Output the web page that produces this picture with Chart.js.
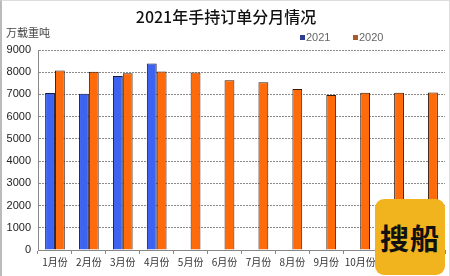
<!DOCTYPE html>
<html>
<head>
<meta charset="utf-8">
<script src="https://cdn.jsdelivr.net/npm/chart.js@4/dist/chart.umd.min.js"></script>
<style>
html,body{margin:0;padding:0;background:#fff;}
#wrap{position:relative;width:450px;height:276px;box-sizing:border-box;border-left:2px solid #bbb;border-top:1px solid #ddd;border-right:1px solid #ddd;}
#mark{position:absolute;left:373px;top:198px;width:70px;height:76px;background:#f2b41e;border-radius:9px;
  font:bold 29px "Noto Sans CJK SC",sans-serif;color:#111;display:flex;align-items:center;justify-content:center;letter-spacing:1px;}
</style>
</head>
<body>
<div id="wrap">
<canvas id="c" width="447" height="275"></canvas>
<div id="mark">搜船</div>
</div>
<script>
// 2021年手持订单分月情况 — 万载重吨
const months = ['1月份','2月份','3月份','4月份','5月份','6月份','7月份','8月份','9月份','10月份','11月份','12月份'];
const y2021 = [7070, 7030, 7830, 8390, null, null, null, null, null, null, null, null];
const y2020 = [8080, 8020, 7950, 8030, 7990, 7640, 7550, 7240, 6980, 7080, 7080, 7090];
const yTicks = [0,1000,2000,3000,4000,5000,6000,7000,8000,9000];

const cjk = '"Noto Sans CJK SC", sans-serif';

// title, unit label and legend drawn on canvas
const decor = {
    id: 'decor',
    afterDraw(chart) {
        const ctx = chart.ctx;
        ctx.save();
        ctx.fillStyle = '#111';
        ctx.font = '500 16px ' + cjk;
        ctx.textAlign = 'center';
        ctx.textBaseline = 'middle';
        ctx.fillText('2021年手持订单分月情况', 224, 16);

        ctx.fillStyle = '#444';
        ctx.font = '11px ' + cjk;
        ctx.textAlign = 'left';
        ctx.fillText('万载重吨', 4, 32);

        const leg = [['2021', '#2c3f8f', 298], ['2020', '#a85a2a', 351]];
        ctx.font = '11px Arial, sans-serif';
        leg.forEach(([t, col, x]) => {
            ctx.fillStyle = col;
            ctx.fillRect(x, 34, 5, 5);
            ctx.fillStyle = '#666';
            ctx.fillText(t, x + 6, 37);
        });
        ctx.restore();
    }
};

new Chart(document.getElementById('c'), {
    type: 'bar',
    data: {
        labels: months,
        datasets: [
            {label:'2021', data:y2021, backgroundColor:'#3d63f0', borderColor:'#1a1a40', borderWidth:1, borderSkipped:'bottom'},
            {label:'2020', data:y2020, backgroundColor:'#ff6a0a', borderColor:'#3a1a08', borderWidth:1, borderSkipped:'bottom'}
        ]
    },
    options: {
        responsive:false, animation:false,
        layout:{padding:{top:49, right:4, left:0, bottom:0}},
        plugins:{legend:{display:false}, tooltip:{enabled:false}},
        datasets:{bar:{categoryPercentage:0.58, barPercentage:1}},
        scales:{
            x:{
                grid:{drawOnChartArea:false, color:'#888', tickLength:4, offset:true},
                border:{color:'#888'},
                ticks:{color:'#333', font:{family:'"Noto Sans CJK SC", sans-serif', size:10}, maxRotation:0, autoSkip:false, padding:2},
                afterFit(s){ s.height = 26; }
            },
            y:{
                min:0, max:9000,
                afterBuildTicks(s){ s.ticks = yTicks.map(v => ({value:v})); },
                grid:{color:'#8a8a8a', drawTicks:false},
                border:{color:'#888', dash:[2,1]},
                ticks:{color:'#222', font:{family:'Arial, sans-serif', size:11}, padding:7, callback:v => String(v)},
                afterFit(s){ s.width = 36; }
            }
        }
    },
    plugins:[decor]
});
</script>
</body>
</html>
